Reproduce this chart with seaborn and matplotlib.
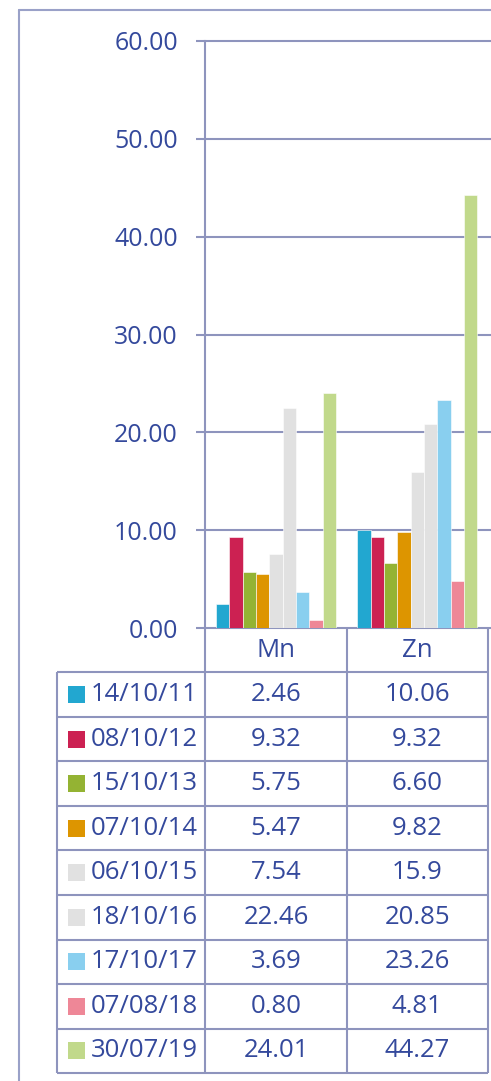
import matplotlib
matplotlib.use("Agg")
import matplotlib.pyplot as plt
from matplotlib.lines import Line2D
from matplotlib.patches import Rectangle
import seaborn as sns
import pandas as pd

# ---- data ----
elements = ["Mn", "Zn"]
dates = ["14/10/11", "08/10/12", "15/10/13", "07/10/14", "06/10/15",
         "18/10/16", "17/10/17", "07/08/18", "30/07/19"]
mn_text = ["2.46", "9.32", "5.75", "5.47", "7.54", "22.46", "3.69", "0.80", "24.01"]
zn_text = ["10.06", "9.32", "6.60", "9.82", "15.9", "20.85", "23.26", "4.81", "44.27"]
colors = ["#22A7D0", "#CC2152", "#94B333", "#DD9500", "#E1E1E1",
          "#E1E1E1", "#89CFEF", "#EE8797", "#C1D98B"]
yticks = [0, 10, 20, 30, 40, 50, 60]

texts = {"Mn": mn_text, "Zn": zn_text}
rows = []
for el in elements:
    for d, s in zip(dates, texts[el]):
        rows.append({"element": el, "date": d, "value": float(s)})
df = pd.DataFrame(rows)

# ---- style ----
sns.set_style("white")
plt.rcParams["font.family"] = ["Open Sans", "DejaVu Sans"]
TXT = "#34499C"
LINE = "#8E94BD"
FRAME = "#9AA1C8"
FS_TICK = 18
FS = 18.5
LW = 1.5

W, H = 491, 1081
fig = plt.figure(figsize=(W / 100, H / 100), dpi=100)

def fx(px):
    return px / W

def fy(py):
    return 1 - py / H

# bar axes: x pixels 205..491, y pixels 41..628
ax_left, ax_right, ax_top, ax_bot = 205, 491, 41, 628
ax = fig.add_axes([fx(ax_left), fy(ax_bot), fx(ax_right - ax_left), (ax_bot - ax_top) / H])
sns.barplot(data=df, x="element", y="value", hue="date", order=elements,
            hue_order=dates, palette=colors, width=0.85, saturation=1,
            errorbar=None, edgecolor="white", linewidth=0.4, ax=ax, legend=False)

cat_px = 141.3
x0 = -71 / cat_px
ax.set_xlim(x0, x0 + (ax_right - ax_left) / cat_px)
ax.set_ylim(0, 60)
ax.set_yticks(yticks)
ax.set_yticklabels([f"{v:.2f}" for v in yticks])
ax.set_xticks([])
ax.set_xlabel("")
ax.set_ylabel("")
for s in ["top", "right", "bottom"]:
    ax.spines[s].set_visible(False)
ax.spines["left"].set_color(LINE)
ax.spines["left"].set_linewidth(LW)
ax.yaxis.grid(True, color=LINE, linewidth=LW)
ax.set_axisbelow(True)
ax.tick_params(axis="y", length=6.5, width=LW, color=LINE, pad=13,
               labelsize=FS_TICK, labelcolor=TXT, left=True)
for gl in ax.get_ygridlines():
    gl.set_clip_on(False)

# table axes: x pixels 57..491, y pixels 628..1073
t_left, t_top, t_bot = 57, 628, 1073
nrows = len(dates) + 1
tx = fig.add_axes([fx(t_left), fy(t_bot), fx(W - t_left), (t_bot - t_top) / H])
tx_left = x0 - (ax_left - t_left) / cat_px
tx.set_xlim(tx_left, x0 + (W - ax_left) / cat_px)
tx.set_ylim(nrows, 0)
tx.axis("off")

ncol = len(elements)
right_edge = ncol - 0.5
tx.hlines(range(1, nrows + 1), tx_left, right_edge, color=LINE, linewidth=LW, clip_on=False)
tx.vlines([-0.5 + i for i in range(ncol + 1)], 0, nrows, color=LINE, linewidth=LW, clip_on=False)
tx.vlines([tx_left], 1, nrows, color=LINE, linewidth=LW, clip_on=False)

for i, el in enumerate(elements):
    tx.text(i, 0.5, el, ha="center", va="center", fontsize=FS, color=TXT)
    for r, s in enumerate(texts[el]):
        tx.text(i, r + 1.5, s, ha="center", va="center", fontsize=FS, color=TXT)

sq_w = 17 / cat_px
sq_h = 17 / 44.5
sq_x = tx_left + (68 - t_left) / cat_px
lab_x = tx_left + (91 - t_left) / cat_px
for r, (d, c) in enumerate(zip(dates, colors)):
    yc = r + 1.5
    tx.add_patch(Rectangle((sq_x, yc - sq_h / 2), sq_w, sq_h, facecolor=c,
                           edgecolor="none", clip_on=False))
    tx.text(lab_x, yc, d, ha="left", va="center", fontsize=FS, color=TXT)

# outer frame
fig.add_artist(Line2D([fx(19), fx(19)], [0, fy(10)], color=FRAME, linewidth=LW))
fig.add_artist(Line2D([fx(19), 1], [fy(10), fy(10)], color=FRAME, linewidth=LW))

fig.savefig("out.png", dpi=100)
